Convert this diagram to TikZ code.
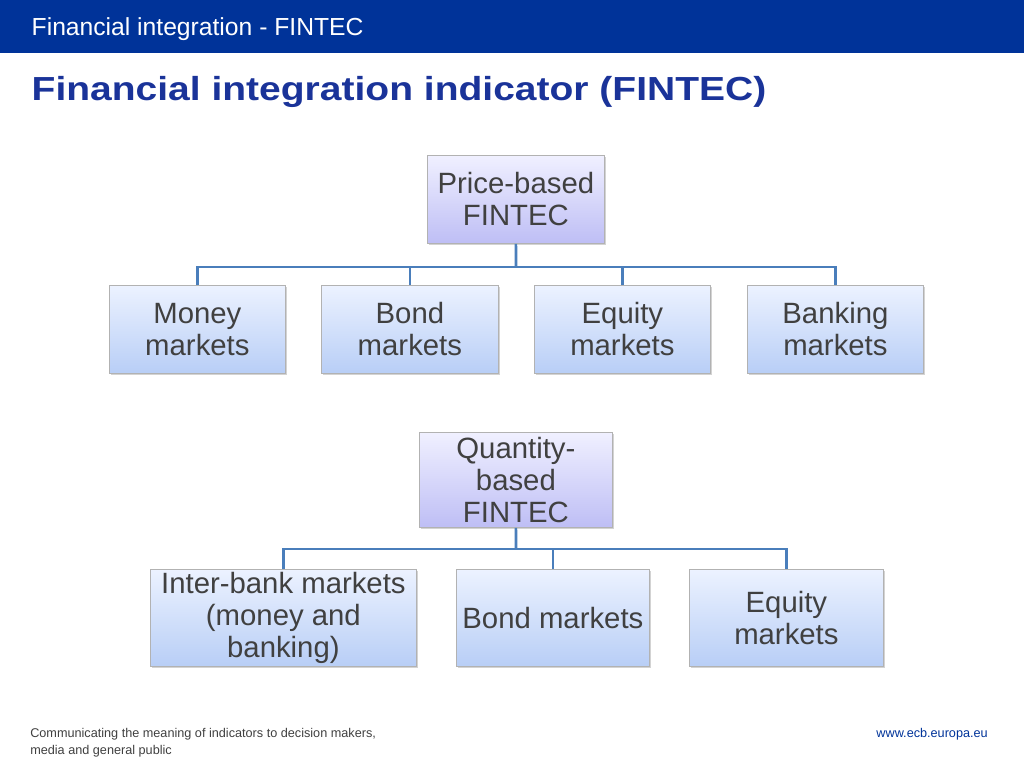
\documentclass[tikz,border=0pt]{standalone}
\usepackage{fontspec}
\setmainfont{Liberation Sans}
\usetikzlibrary{shadows}
\definecolor{hdr}{RGB}{0,51,153}
\definecolor{ttl}{RGB}{26,51,153}
\definecolor{lnk}{RGB}{74,126,187}
\definecolor{txt}{RGB}{64,64,64}
\definecolor{subtop}{RGB}{236,242,255}
\definecolor{subbot}{RGB}{184,206,246}
\definecolor{toptop}{RGB}{240,240,255}
\definecolor{topbot}{RGB}{190,190,245}
\tikzset{
  base/.style={draw=black!30, line width=0.6pt, align=center, text=txt, font=\fontsize{22}{24}\selectfont, inner sep=0pt, anchor=north west, drop shadow={shadow xshift=1pt, shadow yshift=-1.5pt, opacity=0.35}},
  topbox/.style={base, top color=toptop, bottom color=topbot},
  subbox/.style={base, top color=subtop, bottom color=subbot},
  link/.style={draw=lnk, line width=2pt}
}
\begin{document}
\begin{tikzpicture}[x=0.75pt,y=-0.75pt]
\useasboundingbox (0,0) rectangle (1024,768);
\fill[hdr] (0,0) rectangle (1024,53);
\node[anchor=west, text=white, font=\fontsize{18.5}{20}\selectfont] (hd) at (27,29) {Financial integration - FINTEC};
\node[anchor=west, text=ttl, font=\fontsize{25}{27}\bfseries\selectfont] (tt) at (27,92) {\scalebox{1.17}[1]{Financial integration indicator (FINTEC)}};
% price-based
\node[topbox, minimum width=177*0.75pt, minimum height=88*0.75pt] (p) at (427,155) {Price-based\\FINTEC};
\node[subbox, minimum width=176*0.75pt, minimum height=88*0.75pt] (m1) at (109,285) {Money\\markets};
\node[subbox, minimum width=177*0.75pt, minimum height=88*0.75pt] (m2) at (321,285) {Bond\\markets};
\node[subbox, minimum width=176*0.75pt, minimum height=88*0.75pt] (m3) at (534,285) {Equity\\markets};
\node[subbox, minimum width=176*0.75pt, minimum height=88*0.75pt] (m4) at (747,285) {Banking\\markets};
\coordinate (j1) at (516,267);
\draw[link] (p.south) -- (j1);
\draw[link] (m1.north) |- (j1) -| (m4.north);
\draw[link] (m2.north) -- (m2.north |- j1);
\draw[link] (m3.north) -- (m3.north |- j1);
% quantity-based
\node[topbox, minimum width=193*0.75pt, minimum height=95*0.75pt] (q) at (419,432) {Quantity-\\based\\FINTEC};
\node[subbox, minimum width=266*0.75pt, minimum height=97*0.75pt] (n1) at (150,569) {Inter-bank markets\\(money and\\banking)};
\node[subbox, minimum width=193*0.75pt, minimum height=97*0.75pt] (n2) at (456,569) {Bond markets};
\node[subbox, minimum width=194*0.75pt, minimum height=97*0.75pt] (n3) at (689,569) {Equity\\markets};
\coordinate (j2) at (516,549);
\draw[link] (q.south) -- (j2);
\draw[link] (n1.north) |- (j2) -| (n3.north);
\draw[link] (n2.north) -- (n2.north |- j2);
% footer
\node[anchor=north west, align=left, text=black!75, font=\fontsize{9.5}{12.5}\selectfont, inner sep=0pt] (ft) at (30,728) {Communicating the meaning of indicators to decision makers,\\media and general public};
\node[anchor=north east, text=hdr, font=\fontsize{9.5}{11}\selectfont, inner sep=0pt] (url) at (988,728) {www.ecb.europa.eu};
\end{tikzpicture}
\end{document}
